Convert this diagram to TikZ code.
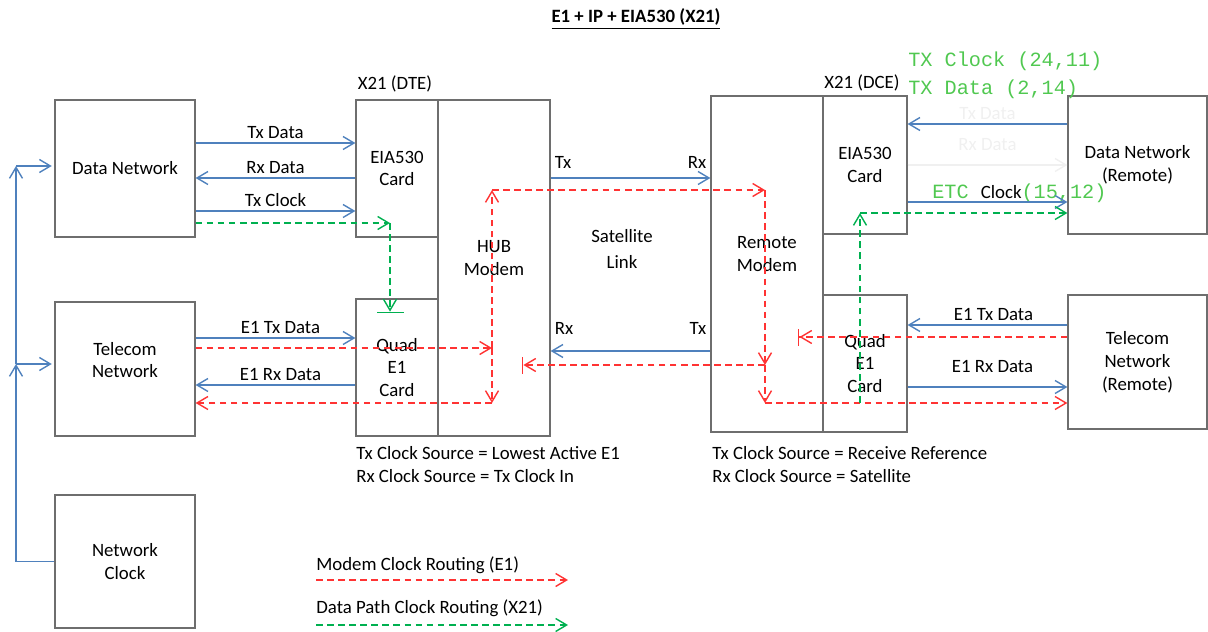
\documentclass[tikz,border=0pt]{standalone}
\usepackage{fontspec}
\setmainfont{Carlito}
\newfontfamily\codefont{Liberation Mono}
\usetikzlibrary{positioning,calc,arrows.meta}
\definecolor{linkblue}{RGB}{79,129,189}
\definecolor{clkred}{RGB}{255,51,51}
\definecolor{clkgreen}{RGB}{0,176,80}
\definecolor{notegreen}{RGB}{80,200,80}
\definecolor{boxgray}{RGB}{110,110,110}
\newcommand{\notefont}{\codefont\fontsize{11.5}{14}\selectfont}

\begin{document}
\begin{tikzpicture}[x=0.02cm, y=-0.02cm, >={Straight Barb[length=2.2mm,width=2.6mm]}, font=\fontsize{10.7}{13}\selectfont]
    \tikzstyle{unit} = [draw=boxgray, line width=0.7pt, inner sep=0pt, align=center]
    \tikzstyle{lbl} = [inner sep=2pt, text=black]
    \tikzstyle{data} = [->, linkblue, line width=0.8pt]
    \tikzstyle{modemclk} = [->, clkred, line width=0.8pt, dash pattern=on 3.8pt off 2.5pt]
    \tikzstyle{pathclk} = [->, clkgreen, line width=0.8pt, dash pattern=on 3.8pt off 2.5pt]
    \useasboundingbox (0,0) rectangle (1208,632);

    \node (title) at (636,19) {\bfseries\underline{E1 + IP + EIA530 (X21)}};

    \node[unit, minimum width=2.8cm, minimum height=2.74cm] (datanet) at (125,168.5) {Data Network};
    \node[unit, minimum width=2.8cm, minimum height=2.68cm, label={[align=center, yshift=0.18cm]center:Telecom\\Network}] (telecom) at (125,369) {};
    \node[unit, minimum width=2.8cm, minimum height=2.66cm] (netclock) at (125,561.5) {Network\\Clock};
    \node[unit, minimum width=1.64cm, minimum height=2.74cm] (eiadte) at (397,168.5) {EIA530\\Card};
    \node[unit, minimum width=1.64cm, minimum height=2.74cm] (quaddte) at (397,367.5) {Quad\\E1\\Card};
    \node[unit, minimum width=2.24cm, minimum height=6.72cm, label={[align=center, yshift=0.2cm]center:HUB\\Modem}] (hub) at (494,268) {};
    \node[unit, minimum width=2.24cm, minimum height=6.72cm, label={[align=center, yshift=0.2cm]center:Remote\\Modem}] (remote) at (767,264) {};
    \node[unit, minimum width=1.68cm, minimum height=2.76cm] (eiadce) at (865,165) {EIA530\\Card};
    \node[unit, minimum width=1.68cm, minimum height=2.74cm] (quaddce) at (865,363.5) {Quad\\E1\\Card};
    \node[unit, minimum width=2.78cm, minimum height=2.76cm] (datanetr) at (1137.5,165) {Data Network\\(Remote)};
    \node[unit, minimum width=2.78cm, minimum height=2.68cm] (telecomr) at (1137.5,362) {Telecom\\Network\\(Remote)};

    \node (dtename) at (395,84) {X21 (DTE)};
    \node (dcename) at (862,83) {X21 (DCE)};
    \node[align=center] (satlink) at (622,249) {Satellite\\[2pt]Link};
    \node[anchor=west, align=left, inner sep=0pt] (hubsrc) at (356,464.5) {Tx Clock Source = Lowest Active E1\\Rx Clock Source = Tx Clock In};
    \node[anchor=west, align=left, inner sep=0pt] (remsrc) at (712,464.5) {Tx Clock Source = Receive Reference\\Rx Clock Source = Satellite};
    \node[anchor=west, inner sep=0pt, text=notegreen, font=\notefont] (txclknote) at (908,61) {TX Clock (24,11)};
    \node[anchor=west, inner sep=0pt, text=notegreen, font=\notefont] (txdatanote) at (908,89) {TX Data (2,14)};
    \node[anchor=west, inner sep=0pt] (etcnote) at (932,193) {\textcolor{notegreen}{\notefont ETC }Clock\textcolor{notegreen}{\notefont(15,12)}};

    % network clock distribution
    \coordinate (clkmid) at (16,364);
    \coordinate (clktop) at (16,166);
    \draw[data] (netclock.west) -| (clkmid);
    \draw[data] (clkmid) -- (clktop);
    \draw[data, shorten >=1.5pt] (clkmid) -- (telecom.west |- clkmid);
    \draw[data, shorten >=1.5pt] (clktop) -- (datanet.west |- clktop);

    % data paths
    \draw[data] (datanet.east |- 0,143) -- (eiadte.west |- 0,143) node[lbl, midway, above] {Tx Data};
    \draw[data] (eiadte.west |- 0,178) -- (datanet.east |- 0,178) node[lbl, midway, above] {Rx Data};
    \draw[data] (datanet.east |- 0,211) -- (eiadte.west |- 0,211) node[lbl, midway, above] {Tx Clock};
    \draw[data] (telecom.east |- 0,338) -- (quaddte.west |- 0,338) node[lbl, midway, above, xshift=0.1cm] {E1 Tx Data};
    \draw[data] (quaddte.west |- 0,385) -- (telecom.east |- 0,385) node[lbl, midway, above, xshift=0.1cm] {E1 Rx Data};
    \draw[data] (hub.east |- 0,178) -- (remote.west |- 0,178) node[lbl, pos=0, above right, yshift=0.1cm] {Tx} node[lbl, pos=1, above left, yshift=0.1cm] {Rx};
    \draw[data] (remote.west |- 0,351) -- (hub.east |- 0,351) node[lbl, pos=0, above left, yshift=0.25cm] {Tx} node[lbl, pos=1, above right, yshift=0.25cm] {Rx};
    \draw[data] (datanetr.west |- 0,124) -- (eiadce.east |- 0,124) node[lbl, midway, above, text=black!6] {Tx Data};
    \draw[data, black!6] (eiadce.east |- 0,165) -- (datanetr.west |- 0,165) node[lbl, midway, above, yshift=0.2cm, text=black!6] {Rx Data};
    \draw[data] (eiadce.east |- 0,202) -- (datanetr.west |- 0,202);
    \draw[data] (telecomr.west |- 0,325) -- (quaddce.east |- 0,325) node[lbl, midway, above, xshift=0.12cm] {E1 Tx Data};
    \draw[data] (quaddce.east |- 0,387) -- (telecomr.west |- 0,387) node[lbl, midway, above, xshift=0.1cm, yshift=0.2cm] {E1 Rx Data};

    % modem clock routing
    \coordinate (hubup) at (492,190);
    \coordinate (hubmid) at (492,348);
    \coordinate (hublow) at (492,403);
    \coordinate (hubstop) at (522,365);
    \coordinate (remup) at (765,190);
    \coordinate (remmid) at (765,365);
    \coordinate (remlow) at (765,403);
    \coordinate (remstop) at (798,337);
    \draw[modemclk] (telecom.east |- hubmid) -- (hubmid);
    \draw[modemclk] (hubmid) -- (hubup);
    \draw[modemclk] (hubmid) -- (hublow);
    \draw[modemclk] (hublow) -- (telecom.east |- hublow);
    \draw[modemclk] (hubup) -- (remup);
    \draw[modemclk] (remup) -- (remmid);
    \draw[modemclk] (remmid) -- (remlow);
    \draw[modemclk] (remlow) -- (telecomr.west |- remlow);
    \draw[modemclk, -{Straight Barb[length=2.2mm,width=2.6mm] Bar[width=3.4mm]}] (remmid) -- (hubstop);
    \draw[modemclk, -{Straight Barb[length=2.2mm,width=2.6mm] Bar[width=3.4mm]}] (telecomr.west |- remstop) -- (remstop);

    % data path clock routing
    \coordinate (dteclk) at (390,223);
    \coordinate (dtestop) at (390,313);
    \coordinate (dcelow) at (860,403);
    \coordinate (dceup) at (860,213);
    \draw[pathclk] (datanet.east |- dteclk) -- (dteclk);
    \draw[pathclk, -{Straight Barb[length=2.2mm,width=2.6mm] Bar[width=5.4mm]}] (dteclk) -- (dtestop);
    \draw[pathclk] (dcelow) -- (dceup);
    \draw[pathclk] (dceup) -- (datanetr.west |- dceup);

    % legend
    \node[anchor=west, inner sep=0pt] (redkey) at (316,565) {Modem Clock Routing (E1)};
    \node[anchor=west, inner sep=0pt] (greenkey) at (316,608) {Data Path Clock Routing (X21)};
    \coordinate (redfrom) at (316,580);
    \coordinate (redto) at (568,580);
    \coordinate (greenfrom) at (316,625);
    \coordinate (greento) at (568,625);
    \draw[modemclk] (redfrom) -- (redto);
    \draw[pathclk] (greenfrom) -- (greento);
\end{tikzpicture}
\end{document}
